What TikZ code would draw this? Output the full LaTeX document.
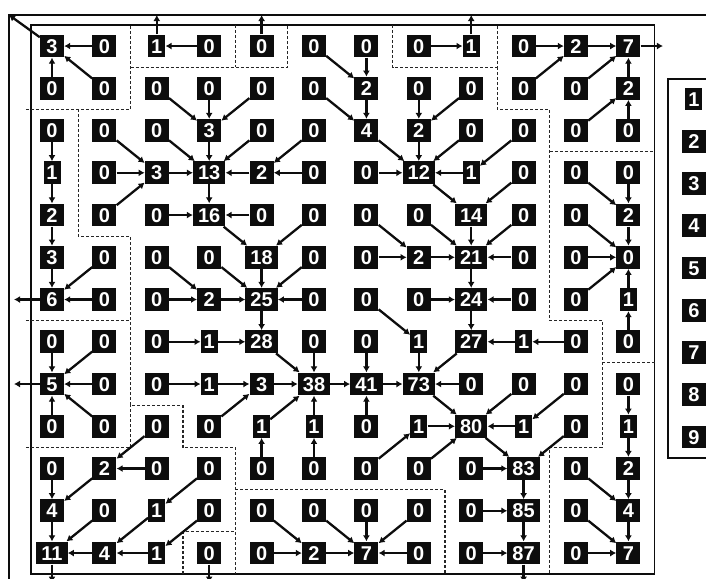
\documentclass[tikz,border=0pt]{standalone}
\usepackage{fontspec}
\setmainfont{Liberation Sans}
\usepackage{tikz}
\usetikzlibrary{arrows.meta}
\definecolor{cellink}{HTML}{0D0D0D}
\definecolor{divideink}{HTML}{262626}

% one row of accumulation cells; a lone 1 gets a narrow box
\newcommand{\accrow}[2]{%
    \foreach \val [count=\c] in {#2} {
        \ifnum\val=1 \def\cellw{17pt}\def\cellsep{0pt}\else\def\cellw{24pt}\def\cellsep{5pt}\fi
        \node[cell, minimum width=\cellw, inner xsep=\cellsep] (n-#1-\c) at (\c-0.5,#1-0.5) {\val};
    }%
}

\begin{document}
\begin{tikzpicture}[
        cell/.style={
            fill=cellink,
            text=white,
            inner xsep=5pt,
            inner ysep=4.3pt,
            text height=14.3pt,
            text depth=0pt,
            minimum width=24pt,
            font=\fontsize{20}{20}\selectfont\bfseries
        },
        flow/.style={-{Latex[length=6pt, width=7pt]}, line width=2.3pt, cellink},
        divide/.style={line width=1.1pt, dash pattern=on 3pt off 2pt, divideink},
        frame/.style={line width=2pt, cellink}
    ]
    \useasboundingbox (0,0) rectangle (706pt,-578pt);

    % outer frame
    \draw[frame] (9pt,-600pt) -- (9pt,-15pt) -- (720pt,-15pt);

    \begin{scope}[shift={(25.8pt,-24.9pt)}, x=52.4pt, y=-42.25pt]
        % grid border and legend frame
        \draw[frame, line width=1.6pt] (0.1,13) -- (0.1,0) -- (12,0) -- (12,13) -- cycle;
        \draw[frame, line width=1.6pt] (13.5,1.28) -- (12.26,1.28) -- (12.26,10.25) -- (13.5,10.25);

        % basin divides
        \draw[divide] (0,2) -- (2,2) -- (2,0);
        \draw[divide] (2,1) -- (5,1) -- (5,0);
        \draw[divide] (4,0) -- (4,1);
        \draw[divide] (7,0) -- (7,1) -- (9,1) -- (9,0);
        \draw[divide] (9,1) -- (9,2) -- (10,2) -- (10,7) -- (11,7) -- (11,10) -- (10,10) -- (10,13);
        \draw[divide] (10,3) -- (12,3);
        \draw[divide] (11,8) -- (12,8);
        \draw[divide] (1,2) -- (1,5) -- (2,5) -- (2,9) -- (3,9) -- (3,10) -- (4,10) -- (4,13);
        \draw[divide] (0,7) -- (2,7);
        \draw[divide] (0,10) -- (2,10) -- (2,9);
        \draw[divide] (4,11) -- (8,11) -- (8,13);
        \draw[divide] (3,13) -- (3,12) -- (4,12);

        % accumulation cells
        \accrow{1}{3,0,1,0,0,0,0,0,1,0,2,7}
        \accrow{2}{0,0,0,0,0,0,2,0,0,0,0,2}
        \accrow{3}{0,0,0,3,0,0,4,2,0,0,0,0}
        \accrow{4}{1,0,3,13,2,0,0,12,1,0,0,0}
        \accrow{5}{2,0,0,16,0,0,0,0,14,0,0,2}
        \accrow{6}{3,0,0,0,18,0,0,2,21,0,0,0}
        \accrow{7}{6,0,0,2,25,0,0,0,24,0,0,1}
        \accrow{8}{0,0,0,1,28,0,0,1,27,1,0,0}
        \accrow{9}{5,0,0,1,3,38,41,73,0,0,0,0}
        \accrow{10}{0,0,0,0,1,1,0,1,80,1,0,1}
        \accrow{11}{0,2,0,0,0,0,0,0,0,83,0,2}
        \accrow{12}{4,0,1,0,0,0,0,0,0,85,0,4}
        \accrow{13}{11,4,1,0,0,2,7,0,0,87,0,7}

        % legend
        \foreach \k in {1,...,9} {
            \ifnum\k=1 \def\cellw{17pt}\def\cellsep{0pt}\else\def\cellw{24pt}\def\cellsep{5pt}\fi
            \node[cell, minimum width=\cellw, inner xsep=\cellsep] (key-\k) at (12.75,\k+0.754) {\k};
        }

        % flow directions
        \foreach \from/\to in {
            1-2/1-1, 1-4/1-3, 1-6/2-7, 1-7/2-7, 1-8/1-9, 1-10/1-11, 1-11/1-12,
            2-1/1-1, 2-2/1-1, 2-3/3-4, 2-4/3-4, 2-5/3-4, 2-6/3-7, 2-7/3-7,
            2-8/3-8, 2-9/3-8, 2-10/1-11, 2-11/1-12, 2-12/1-12,
            3-1/4-1, 3-2/4-3, 3-3/4-4, 3-4/4-4, 3-5/4-4, 3-6/4-5, 3-7/4-8,
            3-8/4-8, 3-9/4-8, 3-10/4-9, 3-11/2-12, 3-12/2-12,
            4-1/5-1, 4-2/4-3, 4-3/4-4, 4-4/5-4, 4-5/4-4, 4-6/4-5, 4-7/4-8,
            4-8/5-9, 4-9/4-8, 4-10/5-9, 4-11/5-12, 4-12/5-12,
            5-1/6-1, 5-2/4-3, 5-3/5-4, 5-4/6-5, 5-5/5-4, 5-6/6-5, 5-7/6-8,
            5-8/6-9, 5-9/6-9, 5-10/6-9, 5-11/6-12, 5-12/6-12,
            6-1/7-1, 6-2/7-1, 6-3/7-4, 6-4/7-5, 6-5/7-5, 6-6/7-5, 6-7/6-8,
            6-8/6-9, 6-9/7-9, 6-10/6-9, 6-11/6-12,
            7-2/7-1, 7-3/7-4, 7-4/7-5, 7-5/8-5, 7-6/7-5, 7-7/8-8, 7-8/7-9,
            7-9/8-9, 7-10/7-9, 7-11/6-12, 7-12/6-12,
            8-1/9-1, 8-2/9-1, 8-3/8-4, 8-4/8-5, 8-5/9-6, 8-6/9-6, 8-7/9-7,
            8-8/9-8, 8-9/9-8, 8-10/8-9, 8-11/8-10, 8-12/7-12,
            9-2/9-1, 9-3/9-4, 9-4/9-5, 9-5/9-6, 9-6/9-7, 9-7/9-8, 9-8/10-9,
            9-9/9-8, 9-10/10-9, 9-11/10-10, 9-12/10-12,
            10-1/9-1, 10-2/9-1, 10-3/11-2, 10-4/9-5, 10-5/9-6, 10-6/9-6,
            10-7/9-7, 10-8/10-9, 10-9/11-10, 10-10/10-9, 10-11/11-10, 10-12/11-12,
            11-1/12-1, 11-2/12-1, 11-3/11-2, 11-4/12-3, 11-5/10-5, 11-6/10-6,
            11-7/10-8, 11-8/10-9, 11-9/11-10, 11-10/12-10, 11-11/12-12, 11-12/12-12,
            12-1/13-1, 12-2/13-1, 12-3/13-2, 12-4/13-3, 12-5/13-6, 12-6/13-7,
            12-7/13-7, 12-8/13-7, 12-9/12-10, 12-10/13-10, 12-11/13-12, 12-12/13-12,
            13-2/13-1, 13-3/13-2, 13-5/13-6, 13-6/13-7, 13-8/13-7, 13-9/13-10,
            13-11/13-12}
            \draw[flow] (n-\from) -- (n-\to);

        % outlets to the map edge
        \coordinate (out-1-1) at (-0.32,-0.234);
        \coordinate (out-1-3) at (2.5,-0.234);
        \coordinate (out-1-5) at (4.5,-0.234);
        \coordinate (out-1-9) at (8.5,-0.234);
        \coordinate (out-1-12) at (12.16,0.5);
        \coordinate (out-7-1) at (-0.225,6.5);
        \coordinate (out-9-1) at (-0.225,8.5);
        \coordinate (out-13-1) at (0.5,13.2);
        \coordinate (out-13-4) at (3.5,13.2);
        \coordinate (out-13-10) at (9.5,13.2);
        \foreach \cellname in {1-1, 1-3, 1-5, 1-9, 1-12, 7-1, 9-1, 13-1, 13-4, 13-10}
            \draw[flow] (n-\cellname) -- (out-\cellname);
    \end{scope}
\end{tikzpicture}
\end{document}
